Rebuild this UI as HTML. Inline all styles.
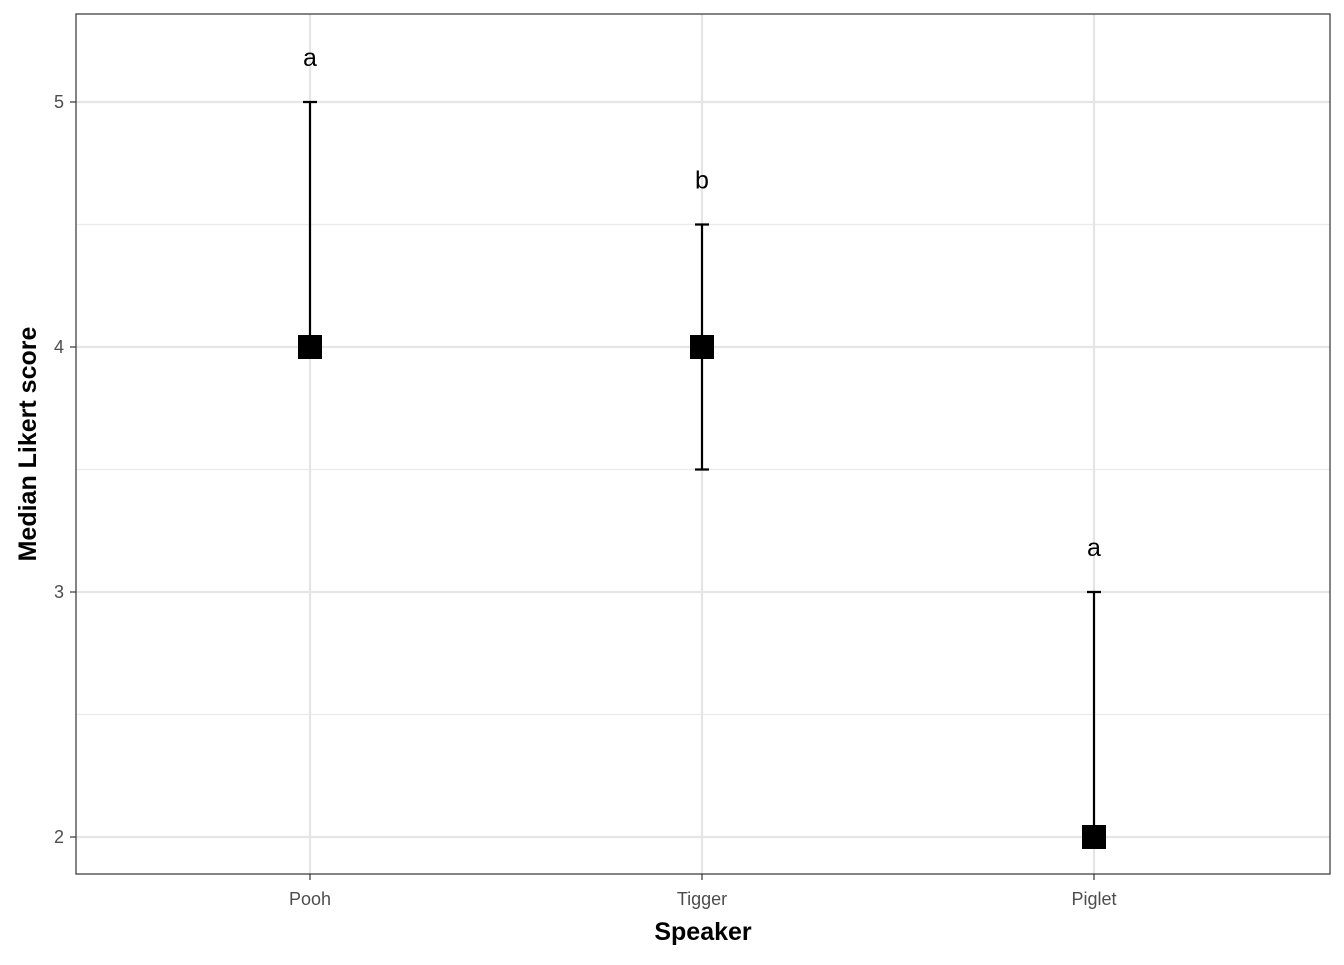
<!DOCTYPE html>
<html><head><meta charset="utf-8"><style>
html,body{margin:0;padding:0;background:#fff;}
svg text{font-family:"Liberation Sans",Arial,sans-serif;}
</style></head><body>
<svg id="chart" width="1344" height="960" xmlns="http://www.w3.org/2000/svg">
<rect x="0" y="0" width="1344" height="960" fill="#fff"/>
<g id="grid"></g>
<g id="marks"></g>
<rect x="76" y="14" width="1254" height="860" fill="none" stroke="#333" stroke-width="1.2"/>
<g id="axes"></g>
<text x="703" y="940" text-anchor="middle" font-size="25" font-weight="bold">Speaker</text>
<text transform="translate(36,444) rotate(-90)" text-anchor="middle" font-size="25" font-weight="bold">Median Likert score</text>
</svg>
<script>
const categories = ["Pooh","Tigger","Piglet"];
const medians = [4,4,2];
const lowers = [4,3.5,2];
const uppers = [5,4.5,3];
const letters = ["a","b","a"];
const yTicks = [2,3,4,5];
const yMinor = [2.5,3.5,4.5];

const NS="http://www.w3.org/2000/svg";
function xs(i){return 310+i*392;}
function ys(v){return 837-(v-2)*245;}
function mk(tag,attrs,parent,txt){const e=document.createElementNS(NS,tag);for(const k in attrs)e.setAttribute(k,attrs[k]);if(txt!==undefined)e.textContent=txt;parent.appendChild(e);return e;}
const grid=document.getElementById('grid'),marks=document.getElementById('marks'),axes=document.getElementById('axes');
yMinor.forEach(v=>{const l=mk('line',{x1:76,x2:1330,y1:ys(v),y2:ys(v),stroke:'#ebebeb','stroke-width':1.2},grid);

});
yTicks.forEach(v=>{const l=mk('line',{x1:76,x2:1330,y1:ys(v),y2:ys(v),stroke:'#e5e5e5','stroke-width':2.2},grid);


const t=mk('line',{x1:70,x2:76,y1:ys(v),y2:ys(v),stroke:'#333','stroke-width':1.2},axes);


const tx=mk('text',{x:64,y:ys(v)+6,'text-anchor':'end','font-size':18,fill:'#4d4d4d'},axes,String(v));

});
categories.forEach((c,i)=>{const x=xs(i);
const g=mk('line',{x1:x,x2:x,y1:14,y2:874,stroke:'#e5e5e5','stroke-width':2.2},grid);


const t=mk('line',{x1:x,x2:x,y1:874,y2:880,stroke:'#333','stroke-width':1.2},axes);


const tx=mk('text',{x:x,y:905,'text-anchor':'middle','font-size':18,fill:'#4d4d4d'},axes,c);


const eb=mk('path',{d:`M${x},${ys(lowers[i])}V${ys(uppers[i])}M${x-7},${ys(lowers[i])}H${x+7}M${x-7},${ys(uppers[i])}H${x+7}`,stroke:'#000','stroke-width':2.2,fill:'none'},marks);


const p=mk('rect',{x:x-12,y:ys(medians[i])-12,width:24,height:24,fill:'#000'},marks);


const lt=mk('text',{x:x,y:ys(uppers[i]+0.18)+8,'text-anchor':'middle','font-size':25,fill:'#000'},marks,letters[i]);

});
</script>
</body></html>
